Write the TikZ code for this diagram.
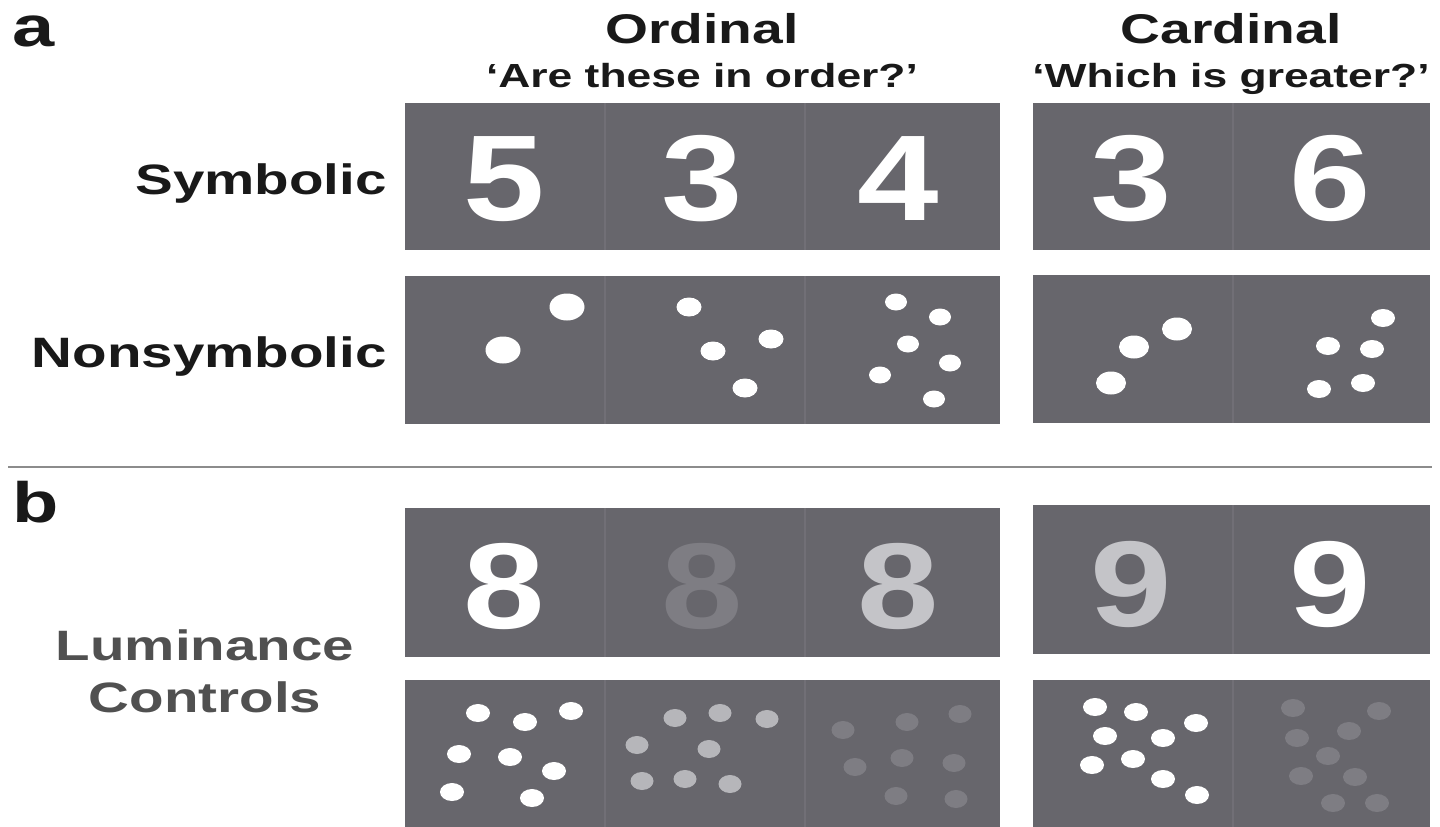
\documentclass[tikz,border=0pt]{standalone}
\usepackage{fontspec}
\setmainfont{Liberation Sans}[FakeStretch=1.33]
\newfontfamily\digitfont{Liberation Sans}[FakeStretch=1.2]
\definecolor{panelgray}{HTML}{67666C}
\definecolor{splitgray}{HTML}{716F76}
\definecolor{dimgray}{HTML}{7E7D83}
\definecolor{midgray}{HTML}{B6B6BA}
\definecolor{litegray}{HTML}{C4C4C8}
\definecolor{lumtext}{HTML}{505050}
\newcommand{\fsz}[1]{\fontsize{#1}{#1}\selectfont\bfseries}

\begin{document}
\begin{tikzpicture}[x=1pt,y=-1pt,
    panel/.style={fill=panelgray},
    split/.style={splitgray,line width=2.5pt},
    digit/.style={font=\digitfont\fsz{122},text=white,inner sep=0pt},
    head/.style={font=\fsz{41.5},text=black!90,inner sep=0pt,anchor=base},
    question/.style={font=\fsz{33.4},text=black!90,inner sep=0pt,anchor=base},
    rowname/.style={font=\fsz{42.5},text=black!90,inner sep=0pt,anchor=base east},
    tag/.style={font=\fsz{57},text=black!90,inner sep=0pt,anchor=base west}]
    \useasboundingbox (0,0) rectangle (1440,827);

    % panels
    \fill[panel] (405,103) rectangle (1000,250);
    \fill[panel] (1033,103) rectangle (1430,250);
    \fill[panel] (405,276) rectangle (1000,424);
    \fill[panel] (1033,275) rectangle (1430,423);
    \fill[panel] (405,508) rectangle (1000,657);
    \fill[panel] (1033,505) rectangle (1430,654);
    \fill[panel] (405,680) rectangle (1000,830);
    \fill[panel] (1033,680) rectangle (1430,830);
    \foreach \t/\b in {103/250,276/424,508/657,680/830} {
        \draw[split] (605,\t) -- (605,\b);
        \draw[split] (805,\t) -- (805,\b);
    }
    \foreach \t/\b in {103/250,275/423,505/654,680/830}
        \draw[split] (1233,\t) -- (1233,\b);
    \draw[gray!90,line width=2pt] (8,467) -- (1432,467);

    % headings
    \node[tag] (a) at (12,46) {a};
    \node[tag] (b) at (12,522) {b};
    \node[head] (ord) at (702,43) {Ordinal};
    \node[question] (ordq) at (702,87) {‘Are these in order?’};
    \node[head] (card) at (1231,43) {Cardinal};
    \node[question] (cardq) at (1231,87) {‘Which is greater?’};
    \node[rowname] (sym) at (387,194) {Symbolic};
    \node[rowname] (nonsym) at (387,367) {Nonsymbolic};
    \node[rowname,anchor=base,text=lumtext] (lum) at (205,660) {Luminance};
    \node[rowname,anchor=base,text=lumtext] (ctrl) at (205,712) {Controls};

    % symbolic
    \node[digit] (s1) at (504,179) {5};
    \node[digit] (s2) at (702,179) {3};
    \node[digit] (s3) at (898,179) {4};
    \node[digit] (c1) at (1131,179) {3};
    \node[digit] (c2) at (1330,179) {6};

    % nonsymbolic
    \foreach \p in {(567,307),(503,350)}
        \fill[white] \p ellipse (17.5pt and 13.5pt);
    \foreach \p in {(689,307),(771,339),(713,351),(745,388)}
        \fill[white] \p ellipse (12.5pt and 9.5pt);
    \foreach \p in {(896,302),(940,317),(908,344),(950,363),(880,375),(934,399)}
        \fill[white] \p ellipse (11pt and 8.5pt);
    \foreach \p in {(1177,329),(1134,347),(1111,383)}
        \fill[white] \p ellipse (15pt and 11.5pt);
    \foreach \p in {(1383,318),(1328,346),(1372,349),(1363,383),(1319,389)}
        \fill[white] \p ellipse (12pt and 9pt);

    % luminance controls
    \node[digit] (l1) at (504,586) {8};
    \node[digit,text=dimgray] (l2) at (702,586) {8};
    \node[digit,text=litegray] (l3) at (898,586) {8};
    \node[digit,text=litegray] (m1) at (1131,584) {9};
    \node[digit] (m2) at (1330,584) {9};
    \foreach \p in {(478,713),(525,722),(571,711),(459,754),(510,757),(554,771),(452,792),(532,798)}
        \fill[white] \p ellipse (12pt and 9pt);
    \foreach \p in {(675,718),(720,713),(767,719),(637,745),(709,749),(642,781),(685,779),(730,784)}
        \fill[midgray] \p ellipse (11.5pt and 9pt);
    \foreach \p in {(843,730),(907,722),(960,714),(855,767),(902,758),(954,763),(896,796),(956,799)}
        \fill[dimgray] \p ellipse (11.5pt and 9pt);
    \foreach \p in {(1095,707),(1136,712),(1196,723),(1105,736),(1163,738),(1092,765),(1133,759),(1163,779),(1197,795)}
        \fill[white] \p ellipse (12pt and 9pt);
    \foreach \p in {(1293,708),(1379,711),(1349,731),(1297,738),(1328,756),(1301,776),(1355,777),(1333,803),(1377,803)}
        \fill[dimgray] \p ellipse (12pt and 9pt);
\end{tikzpicture}
\end{document}
